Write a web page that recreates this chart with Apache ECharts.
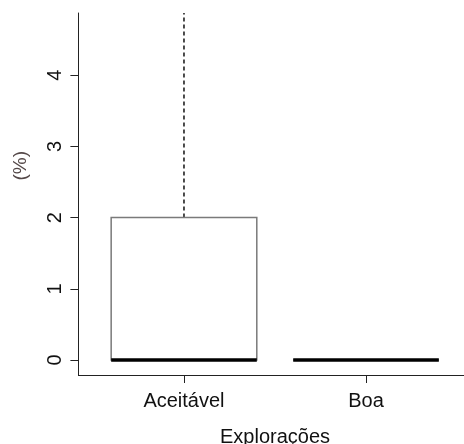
<!DOCTYPE html>
<html>
<head>
<meta charset="utf-8">
<script src="https://cdn.jsdelivr.net/npm/echarts@6/dist/echarts.min.js"></script>
<style>html,body{margin:0;padding:0;background:#fff}#c{width:464px;height:444px}</style>
</head>
<body>
<div id="c"></div>
<script>
var categories = ['Aceitável', 'Boa'];
var lowerWhisker = [0, 0];
var q1 = [0, 0];
var median = [0, 0];
var q3 = [2, 0];
var upperWhisker = [5.27, 0];
var yTicks = [0, 1, 2, 3, 4];
var xTicks = [1, 2];

var FONT = 'Liberation Sans';
var data = categories.map(function (c, i) {
  return [i + 1, lowerWhisker[i], q1[i], median[i], q3[i], upperWhisker[i]];
});

function renderItem(params, api) {
  var x = api.value(0);
  var lo = api.value(1), a = api.value(2), m = api.value(3), b = api.value(4), hi = api.value(5);
  var hw = 0.4, sw = 0.2;
  var pl = api.coord([x - hw, b]), pr = api.coord([x + hw, a]);
  var pc = api.coord([x, 0]);
  var cx = pc[0];
  var yHi = api.coord([x, hi])[1], yB = api.coord([x, b])[1];
  var yA = api.coord([x, a])[1], yLo = api.coord([x, lo])[1];
  var yM = api.coord([x, m])[1];
  var sl = api.coord([x - sw, hi])[0], sr = api.coord([x + sw, hi])[0];
  var dash = {stroke: '#000', lineWidth: 1.4, lineDash: [4, 3]};
  var children = [
    {type: 'line', shape: {x1: cx, y1: yB, x2: cx, y2: yHi}, style: dash},
    {type: 'line', shape: {x1: cx, y1: yA, x2: cx, y2: yLo}, style: dash},
    {type: 'line', shape: {x1: sl, y1: yHi, x2: sr, y2: yHi}, style: {stroke: '#111', lineWidth: 1}},
    {type: 'line', shape: {x1: sl, y1: yLo, x2: sr, y2: yLo}, style: {stroke: '#111', lineWidth: 1}},
    {type: 'rect', shape: {x: pl[0], y: yB, width: pr[0] - pl[0], height: yA - yB},
      style: {fill: '#fff', stroke: '#7a7a7a', lineWidth: 1.5}},
    {type: 'line', shape: {x1: pl[0], y1: yM, x2: pr[0], y2: yM}, style: {stroke: '#000', lineWidth: 3.5}}
  ];
  return {type: 'group', children: children};
}

var chart = echarts.init(document.getElementById('c'));
chart.setOption({
  animation: false,
  backgroundColor: '#fff',
  grid: {left: 78.4, top: 13, width: 393.2, height: 362, containLabel: false, outerBoundsMode: 'none'},
  xAxis: {
    type: 'value', min: 0.42, max: 2.58,
    name: 'Explorações', nameLocation: 'middle', nameGap: 52,
    nameTextStyle: {fontFamily: FONT, fontSize: 20, color: '#111'},
    axisLine: {show: true, onZero: false, lineStyle: {color: '#222', width: 1}},
    axisTick: {show: true, customValues: xTicks, length: 8, lineStyle: {color: '#222'}},
    axisLabel: {customValues: xTicks, margin: 16, fontFamily: FONT, fontSize: 20, color: '#111',
      formatter: function (v) { return categories[Math.round(v) - 1]; }},
    splitLine: {show: false}
  },
  yAxis: {
    type: 'value', min: -0.21, max: 4.873,
    axisLine: {show: true, onZero: false, lineStyle: {color: '#222', width: 1}},
    axisTick: {show: true, customValues: yTicks, length: 8, lineStyle: {color: '#222'}},
    axisLabel: {customValues: yTicks, rotate: 90, margin: 13, fontFamily: FONT, fontSize: 20, color: '#111'},
    splitLine: {show: false}
  },
  graphic: [{
    type: 'text', left: 11, top: 151, rotation: Math.PI / 2,
    style: {text: '(%)', fontFamily: 'Liberation Sans', fontSize: 19, fill: '#544848'}
  }],
  series: [{
    type: 'custom', clip: true, renderItem: renderItem, data: data,
    encode: {x: 0, y: [1, 2, 3, 4, 5]}
  }]
});
</script>
</body>
</html>
